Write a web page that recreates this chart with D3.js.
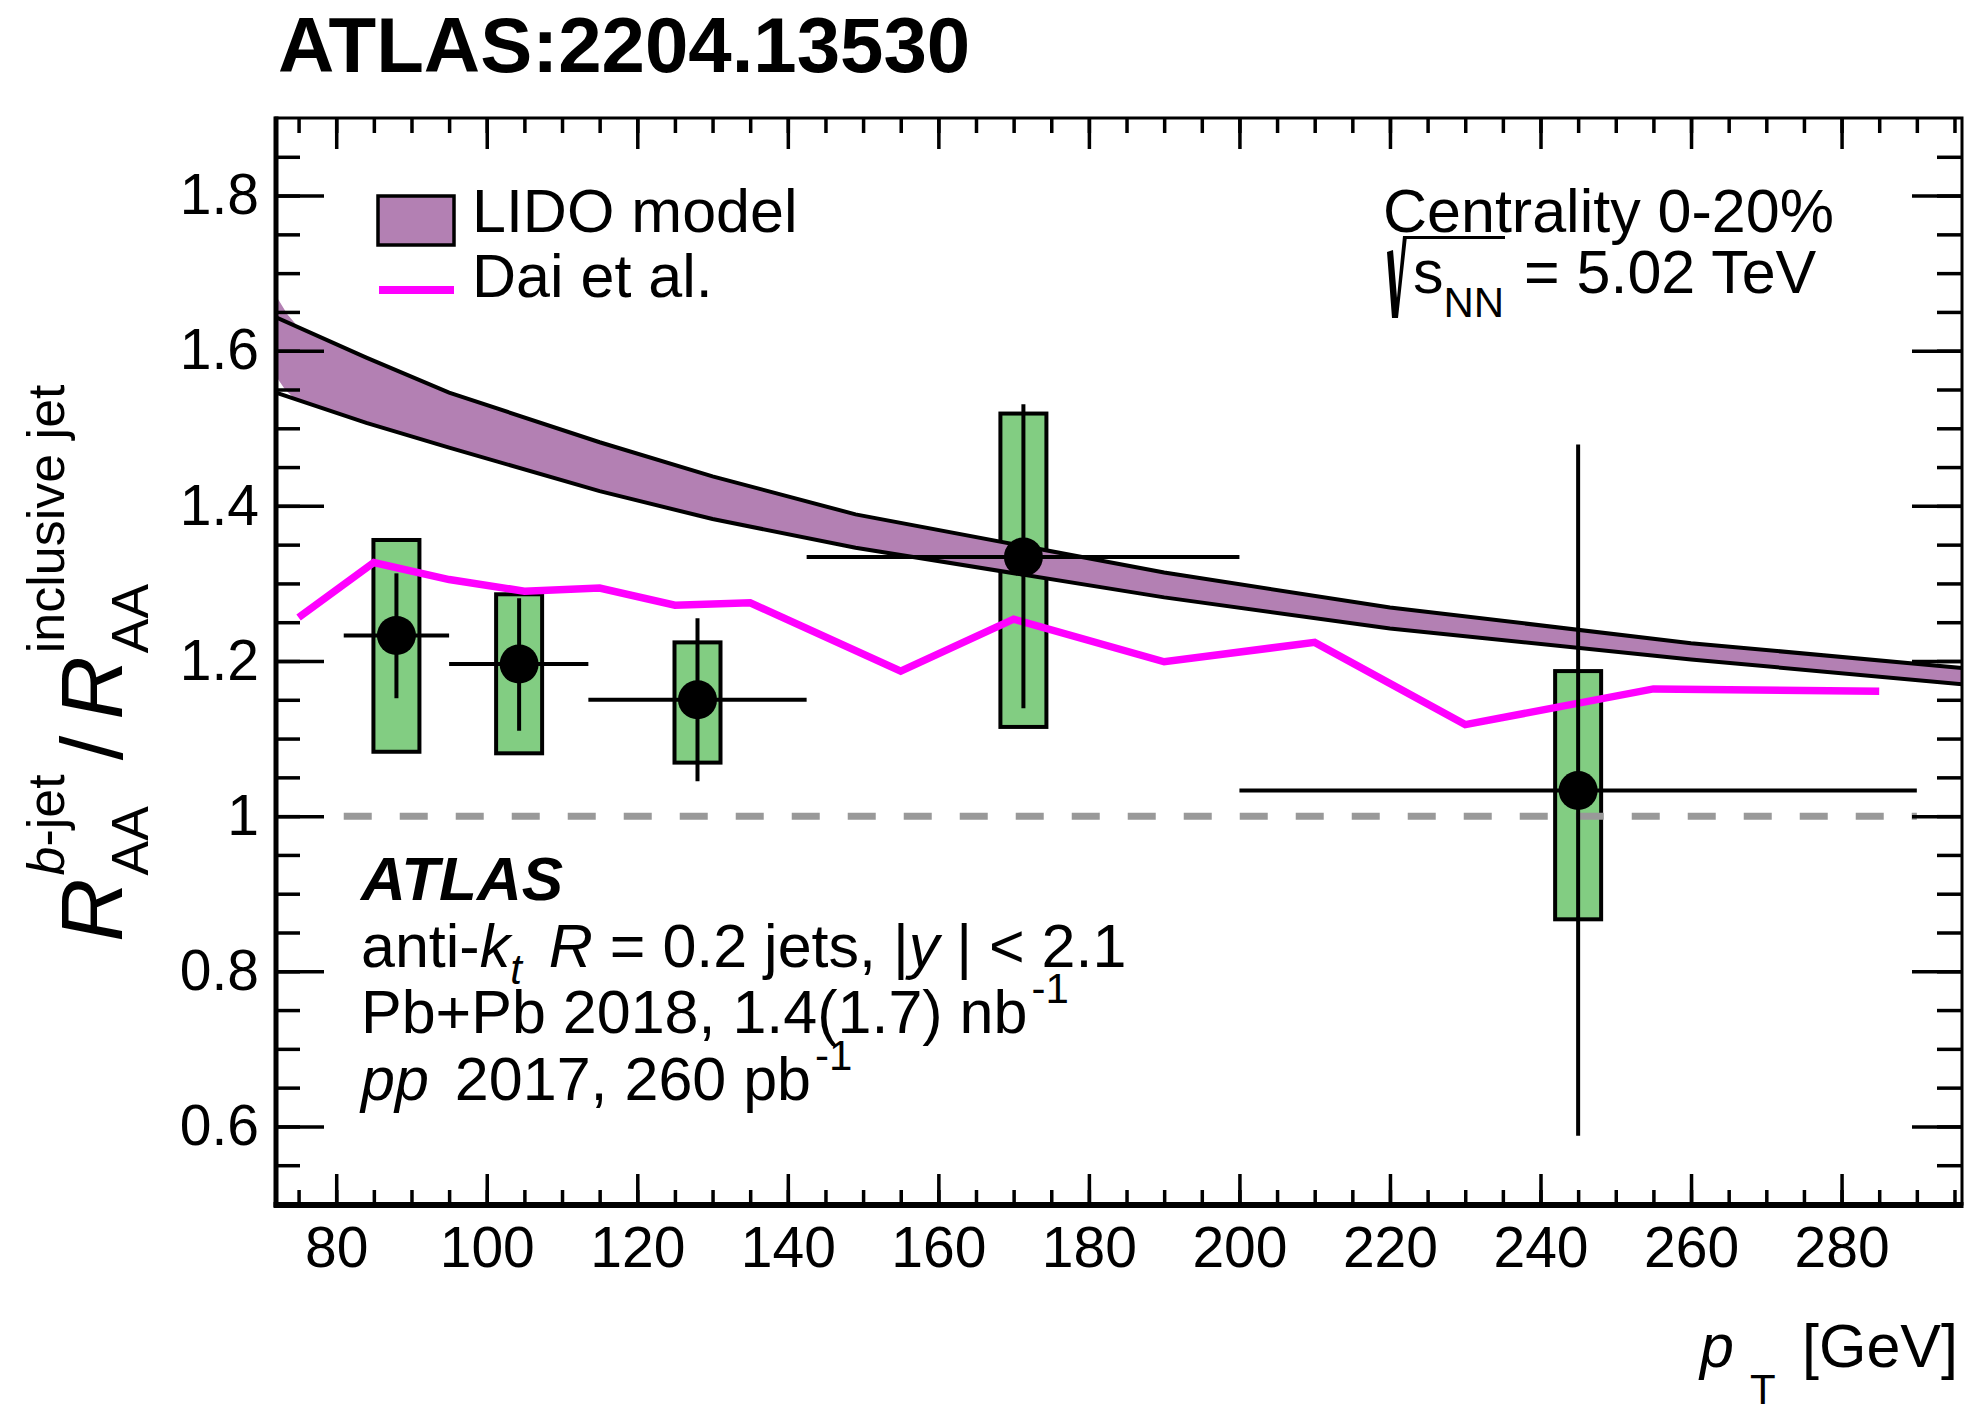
<!doctype html>
<html lang="en">
<head>
<meta charset="UTF-8" />
<title>ATLAS:2204.13530</title>
<script src="https://d3js.org/d3.v7.min.js"></script>
<style>
  body { margin: 0; background: #fff; }
  svg { display: block; font-family: 'Liberation Sans', Arial, Helvetica, sans-serif; }
  .tick line { stroke: #000; stroke-width: 3.5; }
  .tick text { font-size: 57px; fill: #000; font-family: 'Liberation Sans', Arial, sans-serif; }
  .domain { display: none; }
  .lbl { font-size: 61px; fill: #000; }
</style>
</head>
<body>
<svg id="chart" width="1967" height="1406"></svg>
<script>
// ATLAS b-jet / inclusive jet RAA ratio, 0-20% centrality

// data points (ATLAS)
const ptX = [88, 104.3, 128, 171.3, 245]
const ptXLow = [81, 95, 113.5, 142.5, 200]
const ptXHigh = [95, 113.5, 142.5, 200, 290]
const ptY = [1.233, 1.196, 1.15, 1.334, 1.033]
const statLow = [1.152, 1.11, 1.045, 1.139, 0.588]
const statHigh = [1.313, 1.281, 1.255, 1.531, 1.479]
const sysLow = [1.083, 1.081, 1.069, 1.115, 0.867]
const sysHigh = [1.356, 1.286, 1.224, 1.519, 1.187]

// LIDO model band edges
const lidoX = [72, 84, 95, 115, 130, 149, 190, 220, 260, 296]
const lidoUpper = [1.643, 1.591, 1.546, 1.482, 1.438, 1.389, 1.314, 1.269, 1.223, 1.191]
const lidoLower = [1.546, 1.507, 1.475, 1.419, 1.383, 1.346, 1.282, 1.242, 1.202, 1.17]
// the filled area has a small overshoot at the left edge
const lidoFillTopStart = [[72, 1.671], [73.5, 1.647], [75, 1.63]]
const lidoFillBottomStart = [[72, 1.567], [73.2, 1.55], [74.5, 1.538]]

// Dai et al.
const daiX = [75, 85, 95, 105, 115, 125, 135, 155, 170, 190, 210, 230, 255, 285]
const daiY = [1.256, 1.327, 1.305, 1.29, 1.294, 1.272, 1.275, 1.187, 1.254, 1.199, 1.224, 1.118, 1.164, 1.161]

// reference line at 1
const refLineX = [81, 290]

// axes
const xMajor = [80, 100, 120, 140, 160, 180, 200, 220, 240, 260, 280]
const yMajor = [0.6, 0.8, 1, 1.2, 1.4, 1.6, 1.8]

const svg = d3.select('#chart')
const pL = 276, pR = 1962, pT = 118, pB = 1204

const x = d3.scaleLinear().domain([72, 296]).range([pL, pR])
const y = d3.scaleLinear().domain([0.5, 1.9]).range([pB, pT])

const xMinor = d3.range(75, 296, 5)
const yMinor = d3.range(11, 38).map((i) => i * 0.05)

const purple = '#b380b3'
const green = '#82cd82'

// ---- LIDO band
const fillTop = lidoFillTopStart.concat(lidoX.map((d, i) => [d, lidoUpper[i]]).filter((d) => d[0] > 75))
const fillBottom = lidoFillBottomStart.concat(lidoX.map((d, i) => [d, lidoLower[i]]).filter((d) => d[0] > 75))
const poly = fillTop.concat(fillBottom.slice().reverse())

svg.append('clipPath').attr('id', 'clip')
  .append('rect').attr('x', pL).attr('y', pT).attr('width', pR - pL).attr('height', pB - pT)

const plot = svg.append('g').attr('clip-path', 'url(#clip)')

const line = d3.line().x((d) => x(d[0])).y((d) => y(d[1]))

// ---- systematic boxes
const boxHalf = 23
plot.selectAll('.sys').data(ptX).enter().append('rect')
  .attr('x', (d) => x(d) - boxHalf)
  .attr('width', boxHalf * 2)
  .attr('y', (d, i) => y(sysHigh[i]))
  .attr('height', (d, i) => y(sysLow[i]) - y(sysHigh[i]))
  .attr('fill', green).attr('stroke', '#000').attr('stroke-width', 4)

plot.append('path').attr('d', line(poly) + 'Z').attr('fill', purple)
plot.append('path').attr('d', line(lidoX.map((d, i) => [d, lidoUpper[i]])))
  .attr('fill', 'none').attr('stroke', '#000').attr('stroke-width', 4)
plot.append('path').attr('d', line(lidoX.map((d, i) => [d, lidoLower[i]])))
  .attr('fill', 'none').attr('stroke', '#000').attr('stroke-width', 4)

// ---- dashed line at 1
plot.append('line')
  .attr('x1', x(refLineX[0])).attr('x2', x(refLineX[1]))
  .attr('y1', y(1)).attr('y2', y(1))
  .attr('stroke', '#999').attr('stroke-width', 7).attr('stroke-dasharray', '28,28')

// ---- Dai et al.
plot.append('path').attr('d', line(daiX.map((d, i) => [d, daiY[i]])))
  .attr('fill', 'none').attr('stroke', '#ff00ff').attr('stroke-width', 7.5)

// ---- error bars and markers
plot.selectAll('.hbar').data(ptX).enter().append('line')
  .attr('x1', (d, i) => x(ptXLow[i])).attr('x2', (d, i) => x(ptXHigh[i]))
  .attr('y1', (d, i) => y(ptY[i])).attr('y2', (d, i) => y(ptY[i]))
  .attr('stroke', '#000').attr('stroke-width', 4)
plot.selectAll('.vbar').data(ptX).enter().append('line')
  .attr('x1', (d) => x(d)).attr('x2', (d) => x(d))
  .attr('y1', (d, i) => y(statLow[i])).attr('y2', (d, i) => y(statHigh[i]))
  .attr('stroke', '#000').attr('stroke-width', 4)
plot.selectAll('.pt').data(ptX).enter().append('circle')
  .attr('cx', (d) => x(d)).attr('cy', (d, i) => y(ptY[i])).attr('r', 19.5).attr('fill', '#000')

// ---- axes / ticks
const yFmt = (d) => (d === 1 ? '1' : d3.format('.1f')(d))
svg.append('g').attr('transform', `translate(${pL},0)`)
  .call(d3.axisLeft(y).tickValues(yMinor).tickSize(-24).tickFormat(''))
svg.append('g').attr('transform', `translate(${pL},0)`)
  .call(d3.axisLeft(y).tickValues(yMajor).tickSize(-48).tickPadding(17).tickFormat(yFmt))
svg.append('g').attr('transform', `translate(${pR},0)`)
  .call(d3.axisRight(y).tickValues(yMinor).tickSize(-25).tickFormat(''))
svg.append('g').attr('transform', `translate(${pR},0)`)
  .call(d3.axisRight(y).tickValues(yMajor).tickSize(-50).tickFormat(''))

svg.append('g').attr('transform', `translate(0,${pB})`)
  .call(d3.axisBottom(x).tickValues(xMinor).tickSize(-14).tickFormat(''))
svg.append('g').attr('transform', `translate(0,${pB})`)
  .call(d3.axisBottom(x).tickValues(xMajor).tickSize(-30).tickPadding(23).tickFormat(d3.format('d')))
svg.append('g').attr('transform', `translate(0,${pT})`)
  .call(d3.axisTop(x).tickValues(xMinor).tickSize(-15).tickFormat(''))
svg.append('g').attr('transform', `translate(0,${pT})`)
  .call(d3.axisTop(x).tickValues(xMajor).tickSize(-31).tickFormat(''))

// frame
svg.append('rect').attr('x', pL).attr('y', pT).attr('width', pR - pL).attr('height', pB - pT)
  .attr('fill', 'none').attr('stroke', '#000').attr('stroke-width', 3)
svg.append('line').attr('x1', pL).attr('x2', pL).attr('y1', pT - 1.5).attr('y2', pB + 3)
  .attr('stroke', '#000').attr('stroke-width', 5)
svg.append('line').attr('x1', pL - 2.5).attr('x2', pR + 1.5).attr('y1', pB + 1).attr('y2', pB + 1)
  .attr('stroke', '#000').attr('stroke-width', 6)

// ---- title
svg.append('text').attr('x', 278).attr('y', 72)
  .style('font-size', '78px').style('font-weight', 'bold').text('ATLAS:2204.13530')

// ---- legend
svg.append('rect').attr('x', 378).attr('y', 196).attr('width', 76).attr('height', 49)
  .attr('fill', purple).attr('stroke', '#000').attr('stroke-width', 3.5)
svg.append('text').attr('class', 'lbl').attr('x', 472).attr('y', 232).text('LIDO model')
svg.append('line').attr('x1', 379).attr('x2', 454).attr('y1', 290).attr('y2', 290)
  .attr('stroke', '#ff00ff').attr('stroke-width', 8)
svg.append('text').attr('class', 'lbl').attr('x', 472).attr('y', 297).text('Dai et al.')

// ---- centrality / energy
svg.append('text').attr('class', 'lbl').attr('x', 1383).attr('y', 232).text('Centrality 0-20%')
svg.append('path')
  .attr('d', 'M1387,252 L1393,250 L1397,298 L1403,236 L1407,236 L1398,318 L1392,318 Z')
  .attr('fill', '#000')
svg.append('line').attr('x1', 1403).attr('x2', 1505).attr('y1', 237.5).attr('y2', 237.5)
  .attr('stroke', '#000').attr('stroke-width', 3)
const sq = svg.append('text').attr('class', 'lbl').attr('x', 1413).attr('y', 293)
sq.append('tspan').text('s')
sq.append('tspan').attr('dy', 24).style('font-size', '42px').text('NN')
svg.append('text').attr('class', 'lbl').attr('x', 1524).attr('y', 293).text('= 5.02 TeV')

// ---- ATLAS label block
svg.append('text').attr('x', 361).attr('y', 900)
  .style('font-size', '62px').style('font-weight', 'bold').style('font-style', 'italic').text('ATLAS')

const t2 = svg.append('text').attr('class', 'lbl').attr('x', 361).attr('y', 967)
t2.append('tspan').text('anti-')
t2.append('tspan').style('font-style', 'italic').text('k')
t2.append('tspan').style('font-style', 'italic').style('font-size', '42px').attr('dy', 17).text('t')
t2.append('tspan').attr('dy', -17).attr('dx', 10).text(' ')
t2.append('tspan').style('font-style', 'italic').text('R')
t2.append('tspan').text(' = 0.2 jets, |')
t2.append('tspan').style('font-style', 'italic').text('y')
t2.append('tspan').text(' | < 2.1')

const t3 = svg.append('text').attr('class', 'lbl').attr('x', 361).attr('y', 1033)
t3.append('tspan').text('Pb+Pb 2018, 1.4(1.7) nb')
t3.append('tspan').style('font-size', '42px').attr('dy', -30).attr('dx', 4).text('-1')

const t4 = svg.append('text').attr('class', 'lbl').attr('x', 361).attr('y', 1100)
t4.append('tspan').style('font-style', 'italic').text('pp')
t4.append('tspan').attr('dx', 26).text('2017, 260 pb')
t4.append('tspan').style('font-size', '42px').attr('dy', -30).attr('dx', 4).text('-1')

// ---- x axis title
svg.append('text').attr('class', 'lbl').attr('x', 1700).attr('y', 1367)
  .style('font-style', 'italic').text('p')
svg.append('text').attr('x', 1750).attr('y', 1404).style('font-size', '42px').text('T')
svg.append('text').attr('class', 'lbl').attr('x', 1958).attr('y', 1367)
  .attr('text-anchor', 'end').text('[GeV]')

// ---- y axis title, built along a rotated baseline
const yl = svg.append('g').attr('transform', 'translate(122,942) rotate(-90)')
function part(str, size, px, py) {
  const t = yl.append('text').attr('x', px).attr('y', py).style('font-size', size + 'px')
  str.forEach(([s, it]) => t.append('tspan').style('font-style', it ? 'italic' : 'normal').text(s))
  return t.node().getComputedTextLength()
}
let cx = 0
cx += part([['R', true]], 88, cx, 0) + 3
const w1 = part([['b', true], ['-jet', false]], 52, cx, -58)
const w2 = part([['AA', false]], 52, cx, 26)
cx += Math.max(w1, w2) + 14
cx += part([['/', false]], 88, cx, 0) + 16
cx += part([['R', true]], 88, cx, 0) + 3
part([['inclusive jet', false]], 52, cx, -58)
part([['AA', false]], 52, cx, 26)
</script>
</body>
</html>
